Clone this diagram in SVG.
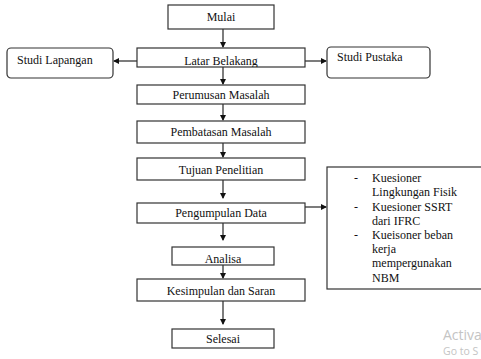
<svg xmlns="http://www.w3.org/2000/svg" width="481" height="359" viewBox="0 0 481 359">
<defs>
<marker id="ah" markerWidth="6" markerHeight="6" refX="5" refY="3" orient="auto" markerUnits="userSpaceOnUse">
<path d="M0,0 L6,3 L0,6 Z" fill="#111"/>
</marker>
<clipPath id="clipLatar"><rect x="137" y="48" width="168" height="19"/></clipPath>
<clipPath id="clipAnalisa"><rect x="172" y="247" width="102" height="18"/></clipPath>
</defs>
<style>
.box{fill:#fff;stroke:#333;stroke-width:1.2}
.t{font-family:"Liberation Serif","Times New Roman",serif;font-size:12px;fill:#111}
.c{text-anchor:middle}
.ln{stroke:#111;stroke-width:1.1;fill:none;marker-end:url(#ah)}
.wm{font-family:"Open Sans","DejaVu Sans",sans-serif;fill:#c4c4c4}
</style>
<g id="connectors">
<line class="ln" x1="223" y1="29" x2="223" y2="47"/>
<line class="ln" x1="137" y1="61" x2="114" y2="61"/>
<line class="ln" x1="305" y1="61" x2="326" y2="61"/>
<line class="ln" x1="223" y1="67" x2="223" y2="84"/>
<line class="ln" x1="223" y1="104" x2="223" y2="120"/>
<line class="ln" x1="223" y1="143" x2="223" y2="157"/>
<line class="ln" x1="223" y1="180" x2="223" y2="198"/>
<line class="ln" x1="305" y1="207" x2="326" y2="207"/>
<line class="ln" x1="223" y1="223" x2="223" y2="240"/>
<line class="ln" x1="223" y1="265" x2="223" y2="278"/>
<line class="ln" x1="223" y1="301" x2="223" y2="324"/>
</g>
<g id="mulai"><rect class="box" x="168" y="5" width="106" height="24"/><text class="t c" x="221" y="21">Mulai</text></g>
<g id="latar"><rect class="box" x="137" y="48" width="168" height="19"/><text class="t c" x="221" y="65" clip-path="url(#clipLatar)">Latar Belakang</text></g>
<g id="studi-lapangan"><rect class="box" x="7" y="48" width="106" height="30" rx="4"/><text class="t" x="17" y="64">Studi Lapangan</text></g>
<g id="studi-pustaka"><rect class="box" x="327" y="47" width="103" height="31" rx="4"/><text class="t" x="337" y="61">Studi Pustaka</text></g>
<g id="perumusan"><rect class="box" x="137" y="85" width="168" height="19"/><text class="t c" x="221" y="99">Perumusan Masalah</text></g>
<g id="pembatasan"><rect class="box" x="137" y="121" width="168" height="22"/><text class="t c" x="221" y="136">Pembatasan Masalah</text></g>
<g id="tujuan"><rect class="box" x="137" y="158" width="168" height="22"/><text class="t c" x="221" y="174">Tujuan Penelitian</text></g>
<g id="pengumpulan"><rect class="box" x="137" y="203" width="168" height="20"/><text class="t c" x="221" y="217">Pengumpulan Data</text></g>
<g id="kuesioner">
<rect class="box" x="327" y="167" width="160" height="122"/>
<text class="t" x="354" y="182">-</text><text class="t" x="372" y="182">Kuesioner</text>
<text class="t" x="372" y="196">Lingkungan Fisik</text>
<text class="t" x="354" y="211">-</text><text class="t" x="372" y="211">Kuesioner SSRT</text>
<text class="t" x="372" y="225">dari IFRC</text>
<text class="t" x="354" y="239">-</text><text class="t" x="372" y="239">Kueisoner beban</text>
<text class="t" x="372" y="253">kerja</text>
<text class="t" x="372" y="267">mempergunakan</text>
<text class="t" x="372" y="282">NBM</text>
</g>
<g id="analisa"><rect class="box" x="172" y="247" width="102" height="18"/><text class="t c" x="223" y="263" clip-path="url(#clipAnalisa)">Analisa</text></g>
<g id="kesimpulan"><rect class="box" x="137" y="279" width="168" height="22"/><text class="t c" x="221" y="295">Kesimpulan dan Saran</text></g>
<g id="selesai"><rect class="box" x="172" y="329" width="102" height="19"/><text class="t c" x="223" y="343">Selesai</text></g>
<g id="watermark">
<text class="wm" x="443" y="340" font-size="14">Activa</text>
<text class="wm" x="443" y="355" font-size="10.5">Go to S</text>
</g>
</svg>
